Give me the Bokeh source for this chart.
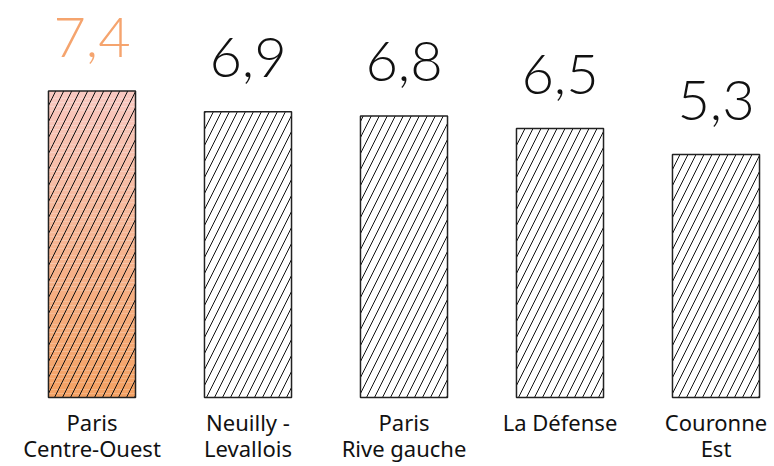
from bokeh.plotting import figure
from bokeh.models import Range1d, ColumnDataSource
from bokeh.core.properties import value
from bokeh.embed import file_html
from bokeh.resources import INLINE

categories = ["Paris\nCentre-Ouest", "Neuilly -\nLevallois", "Paris\nRive gauche", "La Défense", "Couronne\nEst"]
values = [7.4, 6.9, 6.8, 6.5, 5.3]
value_labels = ["7,4", "6,9", "6,8", "6,5", "5,3"]
# bar heights as drawn in the picture (the last bar is drawn taller than its label)
bar_heights = [7.4, 6.9, 6.8, 6.5, 5.87]

highlight_top = (248, 200, 192)
highlight_bottom = (244, 162, 100)
label_highlight = "#F5A46E"

W, H = 774, 466
p = figure(width=W, height=H, output_backend="svg", toolbar_location=None,
           x_range=Range1d(-0.5865, 4.375), y_range=Range1d(-1.667, 9.589),
           min_border=0)
p.axis.visible = False
p.grid.visible = False
p.outline_line_color = None
p.background_fill_color = "white"
p.border_fill_color = "white"

xs = list(range(len(categories)))
bw = 0.558

# gradient fill for the highlighted (first) bar
n = 80
h0 = bar_heights[0]
g_bottom, g_top, g_col = [], [], []
for i in range(n):
    t = i / (n - 1)
    c = tuple(int(round(highlight_bottom[k] + (highlight_top[k] - highlight_bottom[k]) * t)) for k in range(3))
    g_bottom.append(h0 * i / n)
    g_top.append(h0 * (i + 1) / n)
    g_col.append("#%02x%02x%02x" % c)
p.vbar(x=[xs[0]] * n, bottom=g_bottom, top=g_top, width=bw, fill_color=g_col, line_color=None)

src = ColumnDataSource(dict(x=xs, top=bar_heights, lab=value_labels,
                            col=[label_highlight] + ["#111111"] * 4, cat=categories))
p.vbar(x="x", top="top", width=bw, source=src, fill_alpha=0,
       line_color="#222222", line_width=1.5,
       hatch_pattern="/", hatch_color="#111111", hatch_scale=16, hatch_weight=1)

p.text(x="x", y="top", text="lab", source=src, text_color="col",
       text_font=value("Lato Light"), text_font_size="56px",
       text_align="center", text_baseline="alphabetic", y_offset=-54)

p.text(x="x", y=0, text="cat", source=src, text_color="#111111",
       text_font=value("Noto Sans"), text_font_size="22px",
       text_align="center", text_baseline="top", y_offset=10, text_line_height=0.86)

open("out.html", "w").write(file_html(p, INLINE))
